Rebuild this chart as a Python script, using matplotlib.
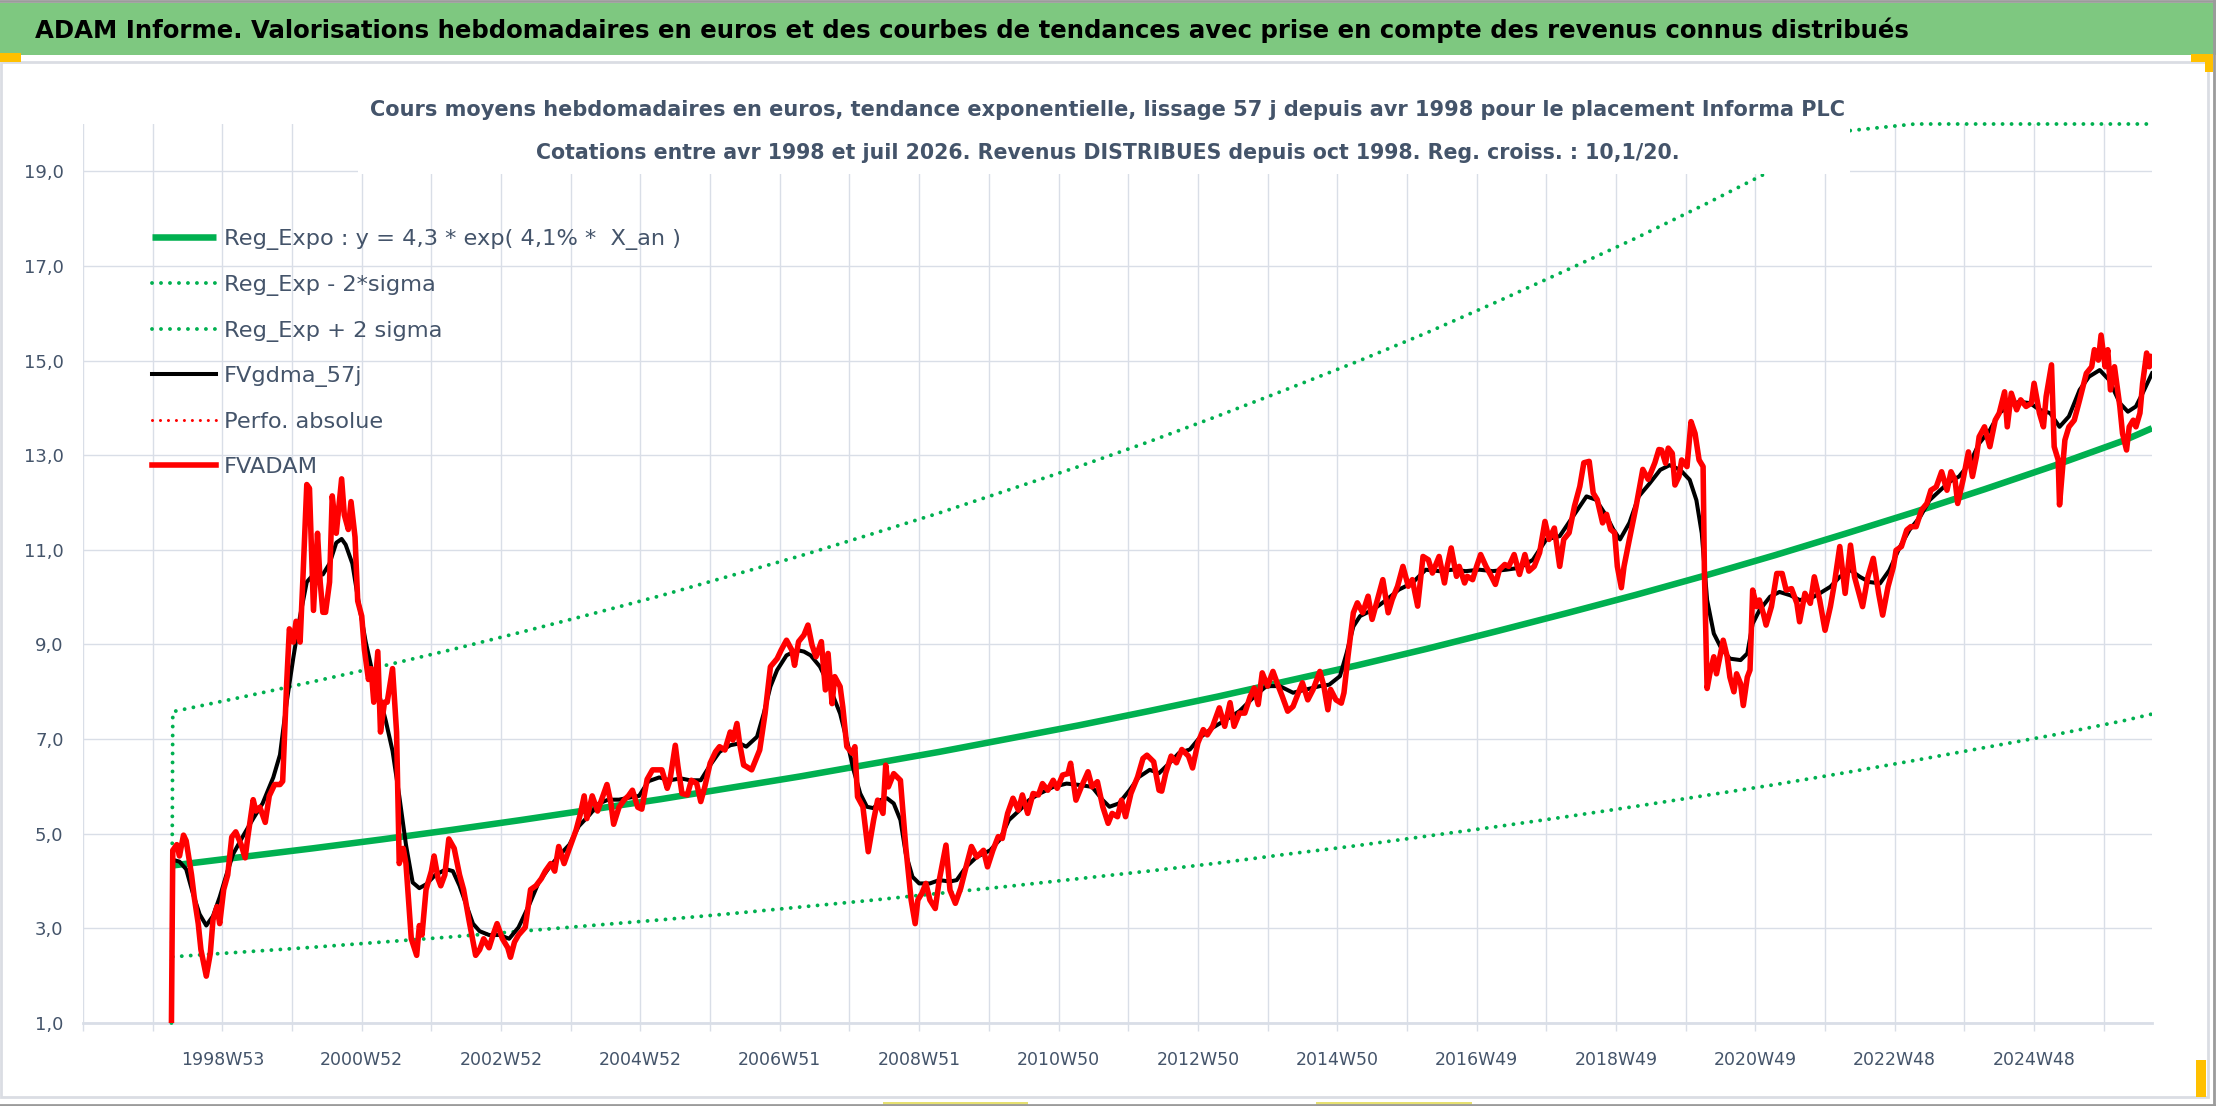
import numpy as np
import matplotlib
matplotlib.use("Agg")
import matplotlib.pyplot as plt
from matplotlib.patches import Rectangle
from matplotlib.lines import Line2D

# ---------------- data (week index from axis start, value in euros) ----------------
red_week = [66, 67, 70, 72, 75, 77, 81, 83, 86, 88, 92, 95, 97, 100, 102, 105, 108, 111, 114, 118, 121, 123, 127, 129, 132, 136, 139, 143, 147, 149,
            152, 154, 157, 159, 162, 164, 167, 169, 172, 175, 177, 179, 181, 184, 186, 189, 193, 195, 198, 200, 203, 205, 208, 210, 213, 215, 217, 220,
            222, 225, 227, 231, 234, 236, 239, 241, 245, 249, 251, 253, 256, 260, 262, 265, 267, 270, 273, 277, 281, 284, 288, 293, 296, 299, 303, 306,
            309, 313, 317, 319, 322, 325, 330, 334, 338, 342, 345, 349, 352, 355, 359, 363, 368, 371, 374, 376, 380, 384, 387, 391, 394, 396, 400, 404,
            407, 410, 414, 417, 421, 425, 430,
            432, 436, 438, 442, 444, 447, 451, 454, 458, 461, 464, 468, 472, 475, 479, 483, 485, 488, 490, 493, 495, 499, 503, 505, 509, 513, 518, 521,
            525, 529, 531, 534, 538, 541, 544, 547, 551, 554, 556, 559, 561, 565, 567, 570, 574, 576, 578, 582, 586, 590, 593, 597, 599, 601, 605, 610,
            614, 618, 621, 623, 626, 629, 632, 636, 639, 644, 647, 651, 655, 659, 663, 667, 672, 675, 679, 683, 686, 690, 694, 698, 701, 705, 709, 713,
            716, 720, 724, 727, 731, 735, 737, 741, 745, 750, 753, 757, 761, 765, 768, 772, 775, 778, 782, 787, 791, 794, 799, 803,
            805, 808, 812, 816, 820, 825, 828, 832, 836, 839, 843, 848, 852, 856, 859, 863, 867, 871, 874, 877, 880, 884, 888, 892, 895, 899, 903, 907,
            910, 914, 918, 923, 926, 929, 931, 935, 939, 941, 944, 948, 951, 955, 959, 962, 966, 970, 974, 977, 981, 985, 989, 992, 996, 1000, 1004,
            1007, 1010, 1012, 1016, 1018, 1021, 1025, 1027, 1031, 1033, 1037, 1040, 1043, 1047, 1051, 1054, 1057, 1061, 1064, 1068, 1072, 1076, 1079,
            1083, 1087, 1091, 1094, 1098, 1102, 1105, 1109, 1113, 1117, 1120, 1124, 1127, 1130, 1134, 1137, 1140, 1143, 1145, 1148, 1150, 1154, 1159,
            1164, 1168, 1173, 1176,
            1178, 1181, 1183, 1186, 1188, 1191, 1193, 1197, 1200, 1203, 1206, 1209, 1210, 1212, 1214, 1217, 1219, 1222, 1224, 1227, 1229, 1232, 1234,
            1237, 1239, 1242, 1244, 1246, 1249, 1251, 1254, 1256, 1260, 1264, 1268, 1271, 1275, 1279, 1281, 1285, 1289, 1292, 1296, 1300, 1304, 1307,
            1311, 1315, 1319, 1322, 1326, 1328, 1332, 1336, 1340, 1343, 1347, 1351, 1353, 1357, 1361, 1364, 1368, 1372, 1376, 1379, 1383, 1387, 1391,
            1394, 1397, 1399, 1403, 1407, 1410, 1413, 1415, 1419, 1423, 1427, 1430, 1434, 1436, 1439, 1443, 1446, 1450, 1454, 1456, 1460, 1463, 1465,
            1469, 1471, 1474, 1475, 1479, 1482, 1486, 1490, 1495, 1499, 1501, 1504, 1506, 1509, 1511, 1513, 1516, 1520, 1522, 1525, 1527, 1530, 1532,
            1535, 1537, 1540, 1542, 1544]
red_val = [1.0, 4.65, 4.77, 4.53, 4.97, 4.85, 4.13, 3.66, 3.1, 2.55, 1.99, 2.47, 3.18, 3.46, 3.1, 3.82, 4.13, 4.93, 5.04, 4.77, 4.49, 4.93, 5.72, 5.48, 5.56, 5.24, 5.8, 6.04, 6.04, 6.11,
           8.18, 9.33, 9.05, 9.49, 9.05, 10.32, 12.38, 12.3, 9.72, 11.35, 10.32, 9.68, 9.68, 10.32, 12.14, 11.35, 12.5, 11.74, 11.43, 12.02, 11.27, 9.92, 9.6, 8.89, 8.26, 8.49, 7.78, 8.85,
           7.15, 7.78, 7.78, 8.49, 7.15, 4.37, 4.69, 4.37, 2.78, 2.43, 3.06, 2.86, 3.82, 4.21, 4.53, 4.05, 3.9, 4.13, 4.89, 4.69, 4.13, 3.82, 3.18, 2.43, 2.55, 2.78, 2.59, 2.86,
           3.1, 2.78, 2.59, 2.39, 2.71, 2.86, 3.02, 3.82, 3.9, 4.05, 4.21, 4.37, 4.21, 4.73, 4.37, 4.69, 5.08, 5.4, 5.8, 5.32, 5.8, 5.48, 5.72, 6.04, 5.64, 5.2, 5.56, 5.72,
           5.8, 5.92, 5.56, 5.52, 6.15, 6.35, 6.35,
           6.35, 5.96, 6.13, 6.87, 6.42, 5.85, 5.82, 6.13, 6.06, 5.68, 5.99, 6.49, 6.73, 6.84, 6.77, 7.15, 6.98, 7.33, 6.91, 6.45, 6.42, 6.35, 6.63, 6.77, 7.54, 8.53, 8.7, 8.88,
           9.09, 8.88, 8.56, 9.06, 9.2, 9.41, 8.99, 8.74, 9.06, 8.04, 8.81, 7.75, 8.32, 8.11, 7.68, 6.84, 6.7, 6.84, 5.78, 5.57, 4.62, 5.29, 5.71, 5.43, 6.45, 5.99, 6.27, 6.13,
           4.72, 3.6, 3.1, 3.6, 3.74, 3.95, 3.6, 3.42, 4.02, 4.76, 3.81, 3.53, 3.85, 4.3, 4.73, 4.51, 4.65, 4.3, 4.65, 4.94, 4.9, 5.43, 5.75, 5.5, 5.82, 5.43, 5.85, 5.82,
           6.06, 5.92, 6.13, 5.96, 6.24, 6.27, 6.49, 5.71, 5.99, 6.31, 5.99, 6.1, 5.57, 5.22, 5.43, 5.36, 5.71, 5.36, 5.85, 6.2, 6.59, 6.66, 6.52, 5.92,
           5.9, 6.28, 6.64, 6.5, 6.78, 6.64, 6.39, 6.92, 7.2, 7.09, 7.27, 7.66, 7.27, 7.77, 7.27, 7.55, 7.55, 7.9, 8.08, 7.73, 8.4, 8.12, 8.43, 8.12, 7.9, 7.59, 7.69, 7.98,
           8.19, 7.83, 8.05, 8.43, 8.12, 7.62, 8.05, 7.83, 7.76, 7.98, 8.75, 9.67, 9.88, 9.67, 10.02, 9.53, 9.95, 10.37, 9.67, 9.95, 10.23, 10.65, 10.23, 10.37, 9.81, 10.86, 10.79,
           10.51, 10.72, 10.86, 10.3, 10.65, 11.04, 10.44, 10.65, 10.3, 10.44, 10.37, 10.65, 10.9, 10.65, 10.44, 10.27, 10.58, 10.69, 10.65, 10.9, 10.48, 10.9, 10.55,
           10.65, 10.94, 11.6, 11.22, 11.46, 10.65, 11.22, 11.36, 11.92, 12.34, 12.84, 12.87, 12.2, 12.06, 11.57, 11.75, 11.43, 11.36, 10.65, 10.2, 10.65, 11.22, 11.92,
           12.7, 12.49, 12.84, 13.12,
           13.11, 12.83, 13.15, 13.04, 12.37, 12.55, 12.9, 12.76, 13.71, 13.46, 12.9, 12.76, 10.5, 8.07, 8.38, 8.74, 8.38, 8.81, 9.09, 8.74, 8.31, 8.0, 8.38,
           8.17, 7.71, 8.31, 8.46, 10.15, 9.8, 9.94, 9.65, 9.41, 9.8, 10.5, 10.5, 10.15, 10.18, 9.87, 9.48, 10.08, 9.87, 10.43, 9.94, 9.3, 9.8, 10.29,
           11.07, 10.08, 11.1, 10.43, 10.01, 9.8, 10.43, 10.82, 10.08, 9.62, 10.22, 10.64, 10.99, 11.07, 11.42, 11.49, 11.49, 11.84, 11.98, 12.26, 12.33, 12.65, 12.26,
           12.65, 12.48, 11.98, 12.48, 13.07, 12.55, 12.97, 13.39, 13.6, 13.18, 13.74, 13.89, 14.34, 13.6, 14.31, 13.96, 14.17, 14.03, 14.1, 14.52, 13.89, 13.6, 14.24,
           14.91, 13.18, 12.9, 11.95, 13.32, 13.6, 13.74, 14.17, 14.73, 14.87, 15.23, 15.01, 15.54, 14.87, 15.23, 14.38, 14.87, 14.03, 13.46, 13.11, 13.6, 13.74, 13.6,
           13.89, 14.52, 15.16, 14.87, 15.08]

black_week = [67, 72, 77, 82, 87, 92, 97, 102, 107, 112, 119, 127, 134, 142, 147, 152, 157, 162, 167, 172, 179, 184, 189, 193, 196, 201, 206, 211, 216, 221,
              226, 231, 236, 241, 246, 251, 256, 263, 271, 276, 281, 286, 291, 296, 303, 311, 318, 325, 333, 340, 348, 355, 363, 370, 378, 385, 392, 400,
              407, 415, 422, 430, 438, 446, 453, 461, 468, 475, 483, 490, 495, 503, 508, 513, 518, 525, 533, 538, 543, 550, 557, 565, 570, 575, 580, 585,
              590, 595, 600, 605, 610, 614, 619, 624, 632, 639, 647, 652, 659, 667, 677, 684, 691, 699, 706, 714, 724, 734, 744, 753, 761, 766, 773, 781,
              788, 796, 803, 811, 818, 826, 833, 843, 853, 863, 873, 883, 893, 903, 913, 923, 930, 938, 943, 948, 953, 963, 973, 982, 992, 1002, 1012,
              1022, 1032, 1042, 1052, 1062, 1072, 1082, 1092, 1102, 1112, 1122, 1129, 1137, 1142, 1147, 1154, 1161, 1169, 1177, 1184, 1192, 1199, 1204,
              1208, 1212, 1217, 1222, 1229, 1237, 1242, 1246, 1251, 1259, 1266, 1274, 1281, 1289, 1296, 1304, 1311, 1319, 1326, 1333, 1341, 1348, 1356,
              1363, 1371, 1378, 1386, 1393, 1400, 1408, 1415, 1423, 1430, 1438, 1445, 1453, 1460, 1468, 1475, 1482, 1490, 1497, 1505, 1512, 1520, 1526,
              1532, 1537, 1544]
black_val = [4.45, 4.41, 4.25, 3.74, 3.3, 3.06, 3.26, 3.66, 4.13, 4.57, 4.93, 5.32, 5.64, 6.19, 6.67, 7.78, 8.73, 9.6, 10.32, 10.48, 10.48, 10.71, 11.15, 11.23, 11.11, 10.71, 9.84, 9.05, 8.41, 7.94,
             7.38, 6.75, 5.8, 4.77, 3.97, 3.85, 3.93, 4.13, 4.25, 4.21, 3.9, 3.5, 3.1, 2.94, 2.86, 2.86, 2.78, 3.02, 3.5, 3.97, 4.29, 4.53, 4.77, 5.16, 5.4, 5.64, 5.72, 5.72,
             5.76, 5.8, 6.11, 6.19, 6.13, 6.17, 6.13, 6.13, 6.45, 6.73, 6.87, 6.91, 6.84, 7.05, 7.54, 8.11, 8.46, 8.77, 8.88, 8.85, 8.77, 8.53, 8.11, 7.54, 6.98, 6.35, 5.85, 5.57,
             5.54, 5.71, 5.75, 5.64, 5.29, 4.58, 4.09, 3.95, 3.95, 4.02, 3.99, 4.02, 4.3, 4.51, 4.65, 4.87, 5.29, 5.5, 5.71, 5.85, 5.99, 6.06, 6.03, 5.99, 5.71, 5.57, 5.64, 5.92,
             6.2, 6.35, 6.28, 6.5, 6.71, 6.78, 7.02, 7.24, 7.41, 7.59, 7.87, 8.12, 8.12, 7.98, 8.05, 8.12, 8.15, 8.33, 8.82, 9.38, 9.6, 9.74, 9.95, 10.16, 10.3, 10.58, 10.55,
             10.58, 10.55, 10.58, 10.55, 10.58, 10.62, 10.79, 11.22, 11.29, 11.71, 12.13, 12.06, 11.71, 11.43, 11.22, 11.57, 12.13, 12.4, 12.69, 12.79, 12.69, 12.48, 12.05,
             11.35, 9.94, 9.23, 8.95, 8.7, 8.67, 8.81, 9.44, 9.72, 10.01, 10.11, 10.04, 9.94, 9.97, 10.08, 10.22, 10.43, 10.57, 10.43, 10.32, 10.29, 10.57, 11.07,
             11.42, 11.7, 12.05, 12.26, 12.44, 12.55, 12.83, 13.25, 13.53, 13.89, 14.06, 14.13, 14.1, 13.96, 13.89, 13.6, 13.82, 14.38, 14.66, 14.8, 14.59, 14.1, 13.92,
             14.03, 14.31, 14.73]

trend_week = [67, 119, 171, 223, 275, 327, 379, 431, 483, 535, 587, 639, 691, 743, 795, 847, 899, 951, 1003, 1055, 1107, 1159, 1211, 1263, 1315, 1367,
              1419, 1471, 1523, 1544]
trend_val = [4.33, 4.51, 4.69, 4.88, 5.08, 5.29, 5.51, 5.73, 5.97, 6.21, 6.47, 6.73, 7.01, 7.29, 7.59, 7.90, 8.23, 8.56, 8.91, 9.28, 9.66, 10.05, 10.46,
             10.89, 11.34, 11.80, 12.28, 12.78, 13.31, 13.57]
low_val = [2.40, 2.50, 2.60, 2.71, 2.82, 2.94, 3.06, 3.18, 3.31, 3.45, 3.59, 3.74, 3.89, 4.05, 4.21, 4.38, 4.57, 4.75, 4.95, 5.15, 5.36, 5.58, 5.81,
           6.04, 6.29, 6.55, 6.82, 7.09, 7.39, 7.53]
up_week = [66] + trend_week
up_val = [1.0, 7.58, 7.89, 8.21, 8.54, 8.89, 9.26, 9.64, 10.03, 10.45, 10.87, 11.32, 11.78, 12.27, 12.76, 13.28, 13.83, 14.40, 14.98, 15.59, 16.24,
          16.91, 17.59, 18.31, 19.06, 19.85, 20.65, 21.49, 22.37, 23.29, 23.75]

tick_labels = ["1998W53", "2000W52", "2002W52", "2004W52", "2006W51", "2008W51", "2010W50", "2012W50", "2014W50",
               "2016W49", "2018W49", "2020W49", "2022W48", "2024W48"]
y_ticks = [1, 3, 5, 7, 9, 11, 13, 15, 17, 19]

legend_labels = ["Reg_Expo : y = 4,3 * exp( 4,1% *  X_an )", "Reg_Exp - 2*sigma", "Reg_Exp + 2 sigma",
                 "FVgdma_57j", "Perfo. absolue", "FVADAM"]

title = "ADAM Informe. Valorisations hebdomadaires en euros et des courbes de tendances avec prise en compte des revenus connus distribués"
subtitle1 = "Cours moyens hebdomadaires en euros, tendance exponentielle, lissage 57 j depuis avr 1998 pour le placement Informa PLC"
subtitle2 = "Cotations entre avr 1998 et juil 2026. Revenus DISTRIBUES depuis oct 1998. Reg. croiss. : 10,1/20."

# ---------------- figure ----------------
W, H = 2216, 1106
fig = plt.figure(figsize=(W / 100, H / 100), dpi=100)
fig.patch.set_facecolor("white")

def fx(px):
    return px / W

def fy(py):
    return 1 - py / H

# chart frame and decorations
fig.add_artist(Rectangle((fx(1), fy(1097)), fx(2207), 1097 / H - 62 / H, transform=fig.transFigure,
                         facecolor="none", edgecolor="#dadde3", lw=2, zorder=-1))
fig.add_artist(Rectangle((0, fy(55)), 1, 52 / H, transform=fig.transFigure, facecolor="#7ec880", edgecolor="none", zorder=-1))
fig.add_artist(Line2D([0, 1], [fy(1), fy(1)], transform=fig.transFigure, color="#9b9b9b", lw=2))
fig.add_artist(Line2D([0, 1], [fy(1105), fy(1105)], transform=fig.transFigure, color="#9b9b9b", lw=2))
fig.add_artist(Line2D([fx(2214), fx(2214)], [0, 1], transform=fig.transFigure, color="#9b9b9b", lw=2))
for (x0, y0, w0, h0, c) in [(0, 53, 21, 9, "#ffc000"), (2191, 54, 22, 8, "#ffc000"), (2205, 54, 8, 18, "#ffc000"),
                            (2196, 1060, 10, 37, "#ffc000"), (883, 1102, 145, 4, "#e6e070"), (1316, 1102, 156, 4, "#e6e070")]:
    fig.add_artist(Rectangle((fx(x0), fy(y0 + h0)), fx(w0), h0 / H, transform=fig.transFigure,
                             facecolor=c, edgecolor="none"))

# white box of the chart title, lying over the top of the plot area
fig.add_artist(Rectangle((fx(358), fy(174)), fx(1850 - 358), (174 - 80) / H, transform=fig.transFigure,
                         facecolor="white", edgecolor="none", zorder=1))

fig.text(fx(35), fy(30), title, fontsize=17.55, fontweight="bold", color="black", ha="left", va="center")
fig.text(0.5, fy(110), subtitle1, fontsize=15, fontweight="bold", color="#44546a", ha="center", va="center")
fig.text(0.5, fy(153), subtitle2, fontsize=14.8, fontweight="bold", color="#44546a", ha="center", va="center")

ax = fig.add_axes([fx(83), fy(1023), fx(2152 - 83), (1023 - 124) / H])
ax.set_facecolor("none")
ax.set_xlim(0, 1544)
ax.set_ylim(1, 20)

grid_c = "#d9dee7"
xt = [52 * k for k in range(30)]
xl = [""] * 30
for i, lab in enumerate(tick_labels):
    xl[2 + 2 * i] = lab
ax.set_xticks(xt)
ax.set_xticklabels(xl, fontsize=12.5, color="#44546a")
ax.set_yticks(y_ticks)
ax.set_yticklabels([f"{v:.1f}".replace(".", ",") for v in y_ticks], fontsize=13, color="#44546a")
ax.tick_params(axis="x", length=6, width=1, color=grid_c, pad=14)
ax.tick_params(axis="y", length=0, pad=14)
ax.grid(True, color=grid_c, lw=1.0)
ax.set_axisbelow(True)
for s in ["top", "right", "left"]:
    ax.spines[s].set_visible(False)
ax.spines["bottom"].set_color(grid_c)
ax.spines["bottom"].set_linewidth(2)

green = "#00b050"
dot = (0, (0.01, 2.3))
ax.plot(trend_week, trend_val, color=green, lw=4.7, solid_capstyle="butt", label=legend_labels[0], zorder=3)
ax.plot(trend_week, low_val, color=green, lw=2.8, linestyle=dot, dash_capstyle="round", label=legend_labels[1], zorder=3)
ax.plot(up_week, np.minimum(up_val, 20), color=green, lw=2.8, linestyle=dot, dash_capstyle="round",
        label=legend_labels[2], zorder=3, clip_on=False)
ax.plot(black_week, black_val, color="black", lw=2.9, label=legend_labels[3], zorder=4)
ax.plot([], [], color="red", lw=2.2, linestyle=(0, (0.01, 2.6)), dash_capstyle="round", label=legend_labels[4])
ax.plot(red_week, red_val, color="#ff0000", lw=4.0, label=legend_labels[5], zorder=5)

leg = ax.legend(loc="upper left", bbox_to_anchor=((152 - 83) / 2069, (1023 - 229) / 899), frameon=False,
                fontsize=16.2, handlelength=2.85, handletextpad=0.35, labelspacing=1.1, borderpad=0, borderaxespad=0)
for t in leg.get_texts():
    t.set_color("#44546a")

fig.savefig("out.png", dpi=100)
